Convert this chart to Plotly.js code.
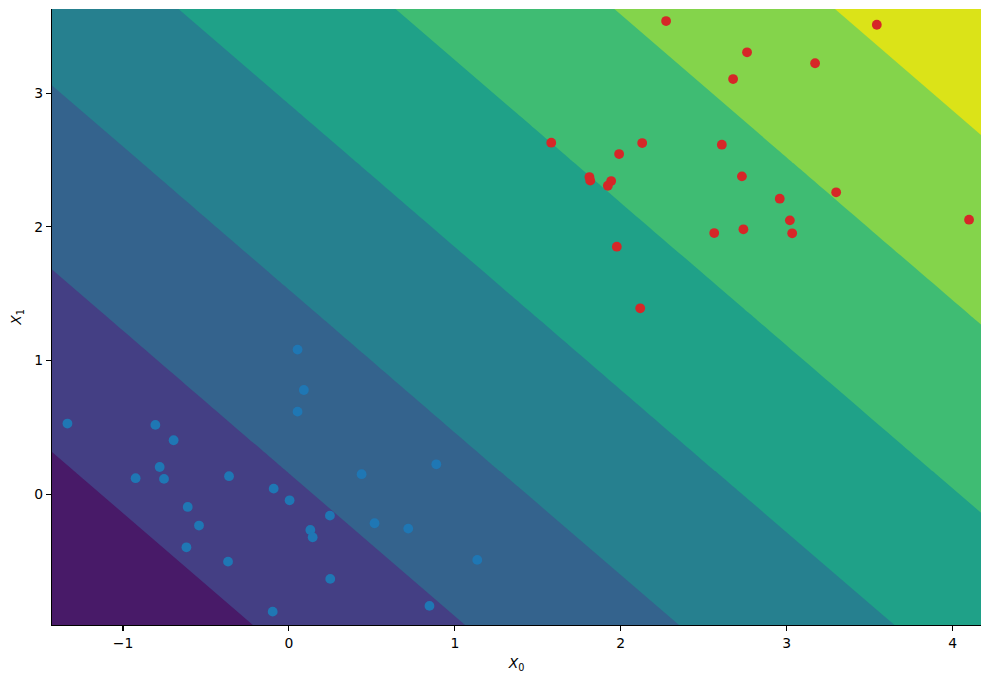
<!DOCTYPE html>
<html>
<head>
<meta charset="utf-8">
<script src="https://cdn.plot.ly/plotly-3.0.1.min.js"></script>
<style>html,body{margin:0;padding:0;background:#fff}</style>
</head>
<body>
<div id="chart" style="width:990px;height:681px"></div>
<script>
const gridX = [-1.428, -0.0283, 1.3715, 2.7712, 4.171];
const gridY = [-0.978, 0.174, 1.326, 2.478, 3.63];
const fieldRow0 = [-3.954, -2.851, -1.758, -0.675, 0.400];
const fieldRow1 = [-3.104, -2.009, -0.922, 0.155, 1.223];
const fieldRow2 = [-2.259, -1.170, -0.091, 0.978, 2.040];
const fieldRow3 = [-1.420, -0.338, 0.734, 1.798, 2.853];
const fieldRow4 = [-0.585, 0.489, 1.555, 2.611, 3.659];
const fieldZ = [fieldRow0, fieldRow1, fieldRow2, fieldRow3, fieldRow4];
const levelStart = -3, levelSize = 1, levelEnd = 3;
const bandColors = ['#481a68', '#443f84', '#34638d', '#26808f', '#1fa188', '#3fbc73', '#84d44b', '#dbe318'];

const blueX = [0.052, 0.09, 0.052, -1.335, -0.805, -0.695, -0.779, -0.924, -0.753, -0.361, -0.092, 0.004, -0.61, -0.542, 0.247, 0.129, 0.143, -0.618, -0.367, 0.249, -0.098, 0.847, 1.135, 0.719, 0.516, 0.438, 0.888];
const blueY = [1.082, 0.78, 0.618, 0.529, 0.519, 0.404, 0.204, 0.12, 0.115, 0.135, 0.042, -0.045, -0.095, -0.234, -0.16, -0.267, -0.322, -0.397, -0.504, -0.633, -0.878, -0.835, -0.491, -0.257, -0.217, 0.15, 0.224];
const redX = [2.273, 3.543, 2.761, 3.171, 2.677, 1.581, 2.129, 2.609, 1.99, 2.73, 1.811, 1.816, 1.942, 1.922, 2.958, 3.298, 3.019, 4.099, 3.033, 2.563, 2.739, 1.976, 2.117];
const redY = [3.54, 3.512, 3.306, 3.224, 3.106, 2.63, 2.627, 2.615, 2.545, 2.378, 2.373, 2.346, 2.343, 2.308, 2.211, 2.259, 2.049, 2.054, 1.952, 1.954, 1.982, 1.852, 1.391];
const xTicks = [-1, 0, 1, 2, 3, 4];
const yTicks = [0, 1, 2, 3];

const n = bandColors.length;
const colorscale = bandColors.map((c, i) => [i / (n - 1), c]);

const axisStyle = {
  showgrid: false, zeroline: false, showline: true, linecolor: '#000', linewidth: 1.1,
  ticks: 'outside', ticklen: 5, tickwidth: 1.1, tickcolor: '#000',
  tickfont: {family: 'DejaVu Sans', size: 13.9, color: '#000'}, tickmode: 'array'
};

Plotly.newPlot('chart', [
  {
    type: 'contour', x: gridX, y: gridY, z: fieldZ, showscale: false, hoverinfo: 'skip',
    autocontour: false,
    contours: {start: levelStart, end: levelEnd, size: levelSize, coloring: 'fill', showlines: false},
    line: {width: 0, smoothing: 0},
    zauto: false, zmin: levelStart - levelSize / 2, zmax: levelEnd + levelSize / 2,
    colorscale: colorscale
  },
  {type: 'scatter', mode: 'markers', x: blueX, y: blueY, marker: {size: 9.8, color: '#1f77b4', line: {width: 0}}, cliponaxis: true},
  {type: 'scatter', mode: 'markers', x: redX, y: redY, marker: {size: 9.8, color: '#d62728', line: {width: 0}}, cliponaxis: true}
], {
  width: 990, height: 681, showlegend: false,
  paper_bgcolor: '#fff', plot_bgcolor: '#fff',
  margin: {l: 51.5, r: 9, t: 9, b: 56, pad: 0},
  xaxis: Object.assign({}, axisStyle, {range: [-1.428, 4.171], tickvals: xTicks, ticktext: xTicks.map(v => v < 0 ? '\u2212' + (-v) : String(v)),
    title: {text: '<i>X</i><sub>0</sub>', font: {family: 'DejaVu Sans', size: 13.9, color: '#000'}, standoff: 8}}),
  yaxis: Object.assign({}, axisStyle, {range: [-0.978, 3.63], tickvals: yTicks, ticktext: yTicks.map(String),
    title: {text: '<i>X</i><sub>1</sub>', font: {family: 'DejaVu Sans', size: 13.9, color: '#000'}, standoff: 9}})
}, {displayModeBar: false, staticPlot: true});
</script>
</body>
</html>
